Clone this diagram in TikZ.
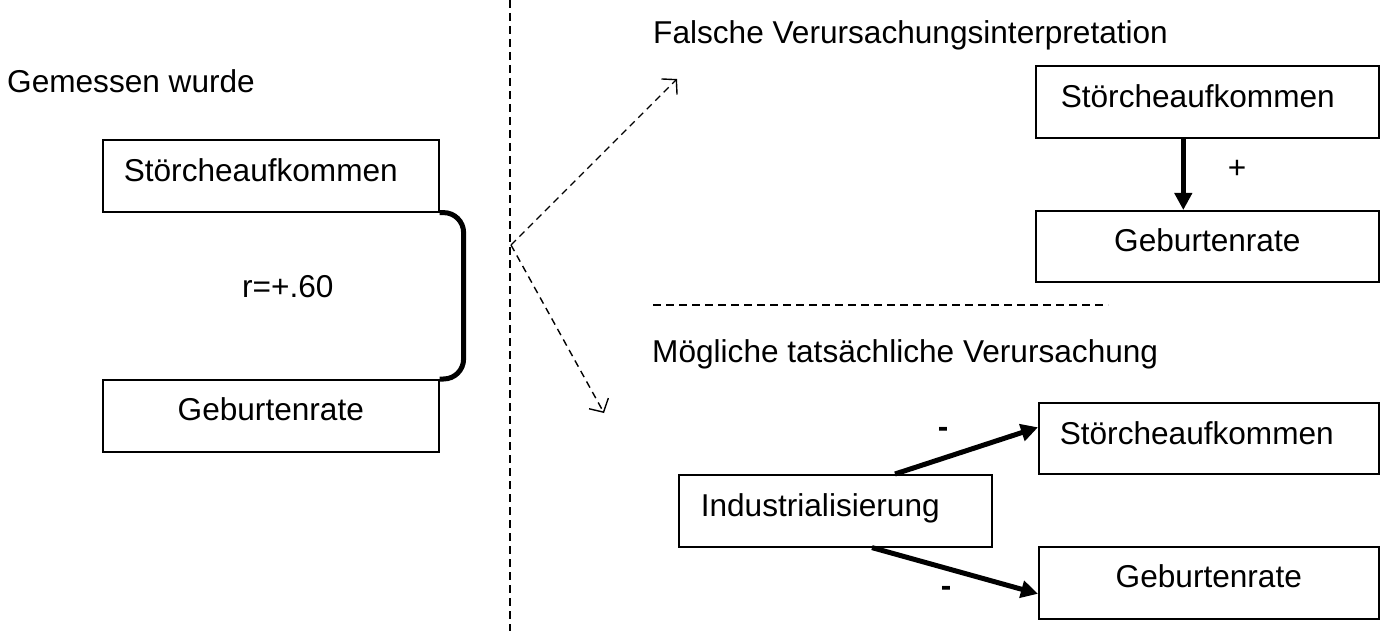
\documentclass[tikz,border=0pt]{standalone}
\usepackage{fontspec}
\setmainfont{Liberation Sans}
\usetikzlibrary{arrows.meta,calc}
\begin{document}
\begin{tikzpicture}[x=1pt,y=-1pt,
  every node/.style={font=\fontsize{31.6pt}{38pt}\selectfont},
  box/.style={draw, line width=1.6pt, anchor=north west, inner ysep=0pt},
  caption/.style={anchor=base west, inner sep=0pt},
  sign/.style={inner sep=0pt, font=\fontsize{31.6pt}{38pt}\selectfont\bfseries},
  causal/.style={line width=5pt, -{Triangle[length=17pt,width=17pt]}},
  guess/.style={line width=1.4pt, dash pattern=on 7pt off 5pt,
    -{Straight Barb[length=10pt,width=22pt,line width=1.4pt]}},
  divider/.style={line width=1.6pt, dash pattern=on 8pt off 5pt}]
\useasboundingbox (0,0) rectangle (1384,631);

% left half: what was measured
\node[caption] (gem) at (7,93) {Gemessen wurde};
\node[box, inner xsep=21pt, text width=294pt, align=left,
      text height=42pt, text depth=30pt] (L1) at (102,139) {Störcheaufkommen};
\node[box, inner xsep=0pt, text width=336pt, align=center,
      text height=41pt, text depth=31pt] (L2) at (102,379) {Geburtenrate};
\node[caption] (r) at (242,297) {r=+.60};
\draw[line width=5pt, rounded corners=20pt]
  (L1.south east) -| ([xshift=24pt]L2.north east) -- (L2.north east);

% vertical separator
\coordinate (vtop) at (510,0);
\coordinate (vbot) at (510,631);
\draw[divider] (vtop) -- (vbot);

% the two readings
\coordinate (fork) at (511,245);
\coordinate (up) at (677,79);
\coordinate (down) at (604,413);
\draw[guess] (fork) -- (up);
\draw[guess] (fork) -- (down);

% upper right: wrong causal interpretation
\node[caption] (fal) at (653,44) {Falsche Verursachungsinterpretation};
\node[box, inner xsep=25pt, text width=293pt, align=left,
      text height=42pt, text depth=30pt] (R1) at (1035,65) {Störcheaufkommen};
\node[box, inner xsep=0pt, text width=343pt, align=center,
      text height=41pt, text depth=30pt] (R2) at (1035,210) {Geburtenrate};
\draw[causal] ([xshift=-24pt]R1.south) -- ([xshift=-24pt]R2.north);
\node (plus) at (1237,169) {+};

% horizontal separator
\coordinate (hl) at (653,305);
\coordinate (hr) at (1108,305);
\draw[divider] (hl) -- (hr);

% lower right: possible actual causation
\node[caption] (moe) at (652,362) {Mögliche tatsächliche Verursachung};
\node[box, inner xsep=22pt, text width=269pt, align=left,
      text height=42pt, text depth=30pt] (I) at (678,474) {Industrialisierung};
\node[box, inner xsep=21pt, text width=298pt, align=left,
      text height=42pt, text depth=29pt] (S) at (1038,402) {Störcheaufkommen};
\node[box, inner xsep=0pt, text width=340pt, align=center,
      text height=41pt, text depth=31pt] (G) at (1038,546) {Geburtenrate};
\draw[causal] ([xshift=217pt]I.north west) -- ([yshift=11pt]S.west);
\draw[causal] ([xshift=194pt]I.south west) -- ([yshift=-11pt]G.west);
\node[sign] (m1) at (943,432) {-};
\node[sign] (m2) at (946,591) {-};
\end{tikzpicture}
\end{document}
